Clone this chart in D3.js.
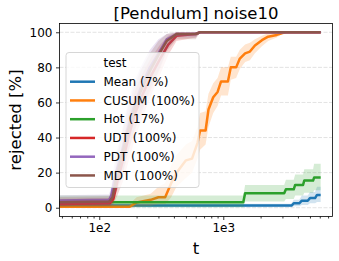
<!DOCTYPE html>
<html>
<head>
<meta charset="utf-8">
<script src="https://cdn.jsdelivr.net/npm/d3@7"></script>
<style>
  body { margin: 0; background: #fff; }
  svg { font-family: "DejaVu Sans", sans-serif; }
</style>
</head>
<body>
<div id="myChart"></div>
<script>
// Data
let seriesNames = ["Mean (7%)", "CUSUM (100%)", "Hot (17%)", "UDT (100%)", "PDT (100%)", "MDT (100%)"];
let seriesColors = ["#1f77b4", "#ff7f0e", "#2ca02c", "#d62728", "#9467bd", "#8c564b"];
let yTicks = [0, 20, 40, 60, 80, 100];
let xTicks = [100, 1000];
let xTickLabels = ["1e2", "1e3"];
let xMinorTicks = [50, 60, 70, 80, 90, 200, 300, 400, 500, 600, 700, 800, 900, 2000, 3000, 4000, 5000, 6000, 7000];

let meanT = [40, 3550, 3700, 4100, 4300, 4800, 5000, 5500, 5700, 6100];
let meanV = [1.2, 1.2, 2.5, 2.5, 4, 4, 5.5, 5.5, 7.3, 7.3];
let meanLo = [0.3, 0.3, 0.8, 0.8, 1.5, 1.5, 2.5, 2.5, 3.2, 3.2];
let meanHi = [2.2, 2.2, 4.5, 4.5, 7, 7, 9, 9, 12, 12];

let cusumT = [40, 175, 200, 260, 300, 340, 380, 420, 500, 560, 620, 650, 720, 760, 830, 900, 960, 1090, 1150, 1270, 1360, 1500, 1640, 1800, 2050, 2300, 2700, 3000, 3200, 6100];
let cusumV = [0.5, 0.5, 3, 4.5, 6, 6, 14, 20, 27, 28, 37, 44, 44, 56, 63, 66, 72, 72, 80, 80, 85, 88, 89, 92.5, 95.5, 97.5, 98.5, 99.5, 100, 100];
let cusumLo = [0, 0, 0.5, 1, 2, 2, 6, 12, 17, 20, 28, 33, 36, 46, 54, 58, 64, 64, 73, 74, 79, 83, 84, 88, 92, 95, 97, 99, 100, 100];
let cusumHi = [2, 2, 6, 8, 12, 14, 24, 30, 36, 38, 46, 54, 55, 65, 71, 74, 80, 80, 86, 86, 90, 93, 94, 96, 98, 99.5, 100, 100, 100, 100];

let hotT = [40, 1450, 1500, 3100, 3200, 3700, 3800, 4400, 4500, 5300, 5400, 6100];
let hotV = [3.1, 3.1, 8.2, 8.2, 10.5, 10.5, 13, 13, 15.5, 15.5, 17.2, 17.2];
let hotLo = [0.3, 0.3, 3.5, 3.5, 5, 5, 7, 7, 8.5, 8.5, 10, 10];
let hotHi = [7, 7, 13, 13, 16, 16, 19, 19, 22, 22, 25, 25];

let udtT = [40, 122, 130, 140, 155, 175, 195, 225, 265, 310, 360, 420, 600, 650, 6100];
let udtV = [2, 2.5, 5, 15, 27, 42, 54, 65, 76, 85, 93, 98, 99, 100, 100];
let udtLo = [0.5, 0.8, 2, 7, 15, 28, 40, 52, 65, 76, 87, 95, 97, 100, 100];
let udtHi = [5, 5.5, 9, 24, 38, 55, 67, 77, 86, 93, 98, 100, 100, 100, 100];

let pdtT = [40, 120, 125, 134, 150, 168, 187, 215, 256, 300, 350, 420, 600, 650, 6100];
let pdtV = [4, 4.5, 7, 18, 30, 44, 56, 68, 80, 88, 96, 99, 99, 100, 100];
let pdtLo = [1.5, 2, 3, 8, 17, 30, 42, 55, 68, 78, 90, 97, 97, 100, 100];
let pdtHi = [7, 7.5, 12, 28, 42, 58, 70, 80, 90, 96, 99, 100, 100, 100, 100];

let mdtT = [40, 120, 128, 136, 150, 168, 187, 215, 256, 300, 350, 420, 600, 650, 6100];
let mdtV = [3, 3.5, 6, 16, 28, 42, 54, 66, 78, 87, 95, 99, 99, 100, 100];
let mdtLo = [0.8, 1, 2.5, 8, 16, 29, 41, 53, 66, 77, 89, 96, 96, 100, 100];
let mdtHi = [6, 6.5, 10, 25, 40, 55, 67, 78, 88, 95, 99, 100, 100, 100, 100];

// Build rows per series
let seriesT = [meanT, cusumT, hotT, udtT, pdtT, mdtT];
let seriesV = [meanV, cusumV, hotV, udtV, pdtV, mdtV];
let seriesLo = [meanLo, cusumLo, hotLo, udtLo, pdtLo, mdtLo];
let seriesHi = [meanHi, cusumHi, hotHi, udtHi, pdtHi, mdtHi];
let series = seriesNames.map((name, i) => ({
  name: name,
  color: seriesColors[i],
  values: seriesT[i].map((t, j) => ({ t: t, v: seriesV[i][j], lo: seriesLo[i][j], hi: seriesHi[i][j] })),
}));

let W = 339, H = 261;
let plot = { left: 59.5, right: 332.5, top: 23.5, bottom: 216.5 };

let svg = d3
  .select("#myChart")
  .append("svg")
  .attr("width", W)
  .attr("height", H);

let x = d3.scaleLog().domain([47.8, 7600]).range([plot.left, plot.right]);
let y = d3.scaleLinear().domain([-5, 105]).range([plot.bottom, plot.top]);

svg
  .append("clipPath")
  .attr("id", "clip")
  .append("rect")
  .attr("x", plot.left)
  .attr("y", plot.top)
  .attr("width", plot.right - plot.left)
  .attr("height", plot.bottom - plot.top);

// Horizontal dashed gridlines
svg
  .append("g")
  .selectAll("line")
  .data(yTicks)
  .enter()
  .append("line")
  .attr("x1", plot.left)
  .attr("x2", plot.right)
  .attr("y1", (d) => y(d))
  .attr("y2", (d) => y(d))
  .attr("stroke", "#e3e3e3")
  .attr("stroke-width", 1)
  .attr("stroke-dasharray", "4,1.5");

let area = d3
  .area()
  .x((d) => x(d.t))
  .y0((d) => y(d.lo))
  .y1((d) => y(d.hi));

let line = d3
  .line()
  .x((d) => x(d.t))
  .y((d) => y(d.v));

let marks = svg.append("g").attr("clip-path", "url(#clip)");

series.forEach((s) => {
  marks
    .append("path")
    .attr("d", line(s.values))
    .attr("fill", "none")
    .attr("stroke", s.color)
    .attr("stroke-width", 2.5)
    .attr("stroke-linejoin", "round");
  marks
    .append("path")
    .attr("d", area(s.values))
    .attr("fill", s.color)
    .attr("fill-opacity", 0.2);
});

// Y axis
let yAxis = svg
  .append("g")
  .attr("transform", `translate(${plot.left},0)`)
  .call(d3.axisLeft(y).tickValues(yTicks).tickSize(3.5).tickPadding(3.5));
yAxis.select(".domain").remove();
yAxis.selectAll(".tick text").style("font-size", "12px").attr("fill", "#000").style("font-family", "DejaVu Sans");

// X axis, major and minor ticks
let xAxis = svg
  .append("g")
  .attr("transform", `translate(0,${plot.bottom})`)
  .call(
    d3
      .axisBottom(x)
      .tickValues(xTicks)
      .tickFormat((d, i) => xTickLabels[i])
      .tickSize(3.5)
      .tickPadding(3.5)
  );
xAxis.select(".domain").remove();
xAxis.selectAll(".tick text").style("font-size", "12px").attr("fill", "#000").style("font-family", "DejaVu Sans");

let xMinor = svg
  .append("g")
  .attr("transform", `translate(0,${plot.bottom})`)
  .call(d3.axisBottom(x).tickValues(xMinorTicks).tickFormat("").tickSize(2));
xMinor.select(".domain").remove();
svg.selectAll(".tick line").attr("stroke-width", 0.8);

// Frame
svg
  .append("rect")
  .attr("x", plot.left)
  .attr("y", plot.top)
  .attr("width", plot.right - plot.left)
  .attr("height", plot.bottom - plot.top)
  .attr("fill", "none")
  .attr("stroke", "#000")
  .attr("stroke-width", 0.8);

// Title and axis labels
svg
  .append("text")
  .attr("x", (plot.left + plot.right) / 2)
  .attr("y", 19)
  .attr("text-anchor", "middle")
  .style("font-size", "16.5px")
  .text("[Pendulum] noise10");

svg
  .append("text")
  .attr("x", (plot.left + plot.right) / 2)
  .attr("y", 254)
  .attr("text-anchor", "middle")
  .style("font-size", "16.5px")
  .text("t");

svg
  .append("text")
  .attr("transform", `translate(21,${(plot.top + plot.bottom) / 2}) rotate(-90)`)
  .attr("text-anchor", "middle")
  .style("font-size", "16.5px")
  .text("rejected [%]");

// Legend
let lg = svg.append("g");
lg.append("rect")
  .attr("x", 66)
  .attr("y", 52.5)
  .attr("width", 133)
  .attr("height", 135)
  .attr("rx", 3)
  .attr("fill", "#fff")
  .attr("fill-opacity", 0.8)
  .attr("stroke", "#ccc")
  .attr("stroke-width", 0.8);

lg.append("text")
  .attr("x", 103.5)
  .attr("y", 63)
  .attr("dy", "0.35em")
  .style("font-size", "12px")
  .text("test");

let items = lg
  .selectAll(".legend")
  .data(series)
  .enter()
  .append("g")
  .attr("class", "legend")
  .attr("transform", (d, i) => `translate(0,${81.7 + i * 18.75})`);

items
  .append("line")
  .attr("x1", 70)
  .attr("x2", 95)
  .attr("stroke", (d) => d.color)
  .attr("stroke-width", 2.5);

items
  .append("text")
  .attr("x", 103.5)
  .attr("dy", "0.35em")
  .style("font-size", "12px")
  .text((d) => d.name);
</script>
</body>
</html>
